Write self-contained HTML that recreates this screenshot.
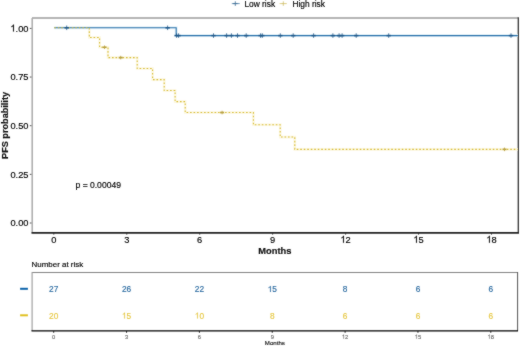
<!DOCTYPE html>
<html><head><meta charset="utf-8"><style>
html,body{margin:0;padding:0;background:#fff;}
svg{display:block;}
text{font-family:"Liberation Sans",sans-serif;stroke:currentColor;stroke-width:0.15px;}
</style></head><body>
<svg width="520" height="347" viewBox="0 0 520 347">
<defs><filter id="bl" x="0" y="0" width="520" height="347" filterUnits="userSpaceOnUse" color-interpolation-filters="sRGB"><feConvolveMatrix order="3" kernelMatrix="1 2 1 2 24 2 1 2 1" edgeMode="duplicate"/></filter></defs>
<g filter="url(#bl)">
<rect width="520" height="347" fill="#fff"/>
<path d="M231.8,3.6H239.7" stroke="#4a7ca4" stroke-width="0.8"/>
<path d="M233.0,3.60H237.6" stroke="#3d6f96" stroke-width="0.8" fill="none"/><path d="M235.3,1.30V5.90" stroke="#3d6f96" stroke-width="0.8" fill="none"/>
<path d="M279.6,3.6H288" stroke="#d8c868" stroke-width="0.8" stroke-dasharray="1.6,1.2"/>
<path d="M281.0,3.60H285.6" stroke="#d0c070" stroke-width="0.8" fill="none"/><path d="M283.3,1.30V5.90" stroke="#d0c070" stroke-width="0.8" fill="none"/>
<text x="244.4" y="7.0" font-size="8.4" fill="#000">Low risk</text>
<text x="292.4" y="7.0" font-size="8.4" fill="#000">High risk</text>
<path d="M32,18H518" stroke="#9c9c9c" stroke-width="1.6"/>
<path d="M32.2,18V232.5" stroke="#aaa" stroke-width="1.5"/>
<path d="M518.3,17.3V233" stroke="#333" stroke-width="1.3"/>
<path d="M31.5,232.85H519" stroke="#222" stroke-width="1.6"/>
<path d="M29.8,28.40H31.5" stroke="#555" stroke-width="1"/>
<g transform="translate(10.40,31.60) scale(1,1.05)">
<text x="0.00" y="0.00" font-size="9.3" fill="#000" color="#000"> .00</text>
<path d="M763,0L583,0L583,1147Q518,1085 412,1023Q307,961 223,930L223,1104Q374,1175 487,1276Q600,1377 647,1472L763,1472Z" fill="#000" stroke="#000" stroke-width="33.0" transform="translate(0.00,0.00) scale(0.004541,-0.004541)"/>
</g>
<path d="M29.8,77.05H31.5" stroke="#555" stroke-width="1"/>
<g transform="translate(10.40,80.25) scale(1,1.05)">
<text x="0.00" y="0.00" font-size="9.3" fill="#000" color="#000">0.75</text>
</g>
<path d="M29.8,125.70H31.5" stroke="#555" stroke-width="1"/>
<g transform="translate(10.40,128.90) scale(1,1.05)">
<text x="0.00" y="0.00" font-size="9.3" fill="#000" color="#000">0.50</text>
</g>
<path d="M29.8,174.35H31.5" stroke="#555" stroke-width="1"/>
<g transform="translate(10.40,177.55) scale(1,1.05)">
<text x="0.00" y="0.00" font-size="9.3" fill="#000" color="#000">0.25</text>
</g>
<path d="M29.8,223.00H31.5" stroke="#555" stroke-width="1"/>
<g transform="translate(10.40,226.20) scale(1,1.05)">
<text x="0.00" y="0.00" font-size="9.3" fill="#000" color="#000">0.00</text>
</g>
<path d="M53.80,233V234.6" stroke="#333" stroke-width="1"/>
<g transform="translate(51.21,242.80) scale(1,1.05)">
<text x="0.00" y="0.00" font-size="9.3" fill="#000" color="#000">0</text>
</g>
<path d="M126.75,233V234.6" stroke="#333" stroke-width="1"/>
<g transform="translate(124.16,242.80) scale(1,1.05)">
<text x="0.00" y="0.00" font-size="9.3" fill="#000" color="#000">3</text>
</g>
<path d="M199.70,233V234.6" stroke="#333" stroke-width="1"/>
<g transform="translate(197.11,242.80) scale(1,1.05)">
<text x="0.00" y="0.00" font-size="9.3" fill="#000" color="#000">6</text>
</g>
<path d="M272.65,233V234.6" stroke="#333" stroke-width="1"/>
<g transform="translate(270.06,242.80) scale(1,1.05)">
<text x="0.00" y="0.00" font-size="9.3" fill="#000" color="#000">9</text>
</g>
<path d="M345.60,233V234.6" stroke="#333" stroke-width="1"/>
<g transform="translate(340.43,242.80) scale(1,1.05)">
<text x="0.00" y="0.00" font-size="9.3" fill="#000" color="#000"> 2</text>
<path d="M763,0L583,0L583,1147Q518,1085 412,1023Q307,961 223,930L223,1104Q374,1175 487,1276Q600,1377 647,1472L763,1472Z" fill="#000" stroke="#000" stroke-width="33.0" transform="translate(0.00,0.00) scale(0.004541,-0.004541)"/>
</g>
<path d="M418.55,233V234.6" stroke="#333" stroke-width="1"/>
<g transform="translate(413.38,242.80) scale(1,1.05)">
<text x="0.00" y="0.00" font-size="9.3" fill="#000" color="#000"> 5</text>
<path d="M763,0L583,0L583,1147Q518,1085 412,1023Q307,961 223,930L223,1104Q374,1175 487,1276Q600,1377 647,1472L763,1472Z" fill="#000" stroke="#000" stroke-width="33.0" transform="translate(0.00,0.00) scale(0.004541,-0.004541)"/>
</g>
<path d="M491.50,233V234.6" stroke="#333" stroke-width="1"/>
<g transform="translate(486.33,242.80) scale(1,1.05)">
<text x="0.00" y="0.00" font-size="9.3" fill="#000" color="#000"> 8</text>
<path d="M763,0L583,0L583,1147Q518,1085 412,1023Q307,961 223,930L223,1104Q374,1175 487,1276Q600,1377 647,1472L763,1472Z" fill="#000" stroke="#000" stroke-width="33.0" transform="translate(0.00,0.00) scale(0.004541,-0.004541)"/>
</g>
<text x="274.9" y="253.5" font-size="9.3" font-weight="bold" fill="#111" text-anchor="middle">Months</text>
<text transform="translate(7.7,125.45) rotate(-90)" x="0" y="0" font-size="9.15" font-weight="bold" fill="#111" text-anchor="middle">PFS probability</text>
<text x="75.5" y="187.8" font-size="8.55" fill="#000">p = 0.00049</text>
<path d="M54.3,27.80 H89.3 V37.54 H99.6 V47.28 H108.0 V57.60 H137.2 V68.51 H152.6 V79.62 H164.2 V90.53 H175.1 V101.63 H185.2 V112.54 H253.4 V124.81 H280.2 V137.08 H294.8 V149.36 H517.8" stroke="#fdf8e2" stroke-width="2.6" fill="none"/>
<path d="M54.3,27.80 H176.2 V35.59 H517.8" stroke="#eaf5fb" stroke-width="3.0" fill="none"/>
<path d="M54.3,27.80 H176.2 V35.59 H517.8" stroke="#2a72aa" stroke-width="1.1" fill="none"/>
<path d="M54.3,27.80 H89.3 V37.54 H99.6 V47.28 H108.0 V57.60 H137.2 V68.51 H152.6 V79.62 H164.2 V90.53 H175.1 V101.63 H185.2 V112.54 H253.4 V124.81 H280.2 V137.08 H294.8 V149.36 H517.8" stroke="#d6bc38" stroke-width="1.05" fill="none" stroke-dasharray="1.6,1.9"/>
<path d="M64.5,27.80H68.9" stroke="#1d5688" stroke-width="1.5" fill="none"/><path d="M66.7,25.50V30.10" stroke="#1d5688" stroke-width="0.75" fill="none"/>
<path d="M165.4,27.80H169.8" stroke="#1d5688" stroke-width="1.5" fill="none"/><path d="M167.6,25.50V30.10" stroke="#1d5688" stroke-width="0.75" fill="none"/>
<path d="M174.4,35.59H178.8" stroke="#1d5688" stroke-width="1.5" fill="none"/><path d="M176.6,33.29V37.89" stroke="#1d5688" stroke-width="0.75" fill="none"/>
<path d="M176.4,35.59H180.8" stroke="#1d5688" stroke-width="1.5" fill="none"/><path d="M178.6,33.29V37.89" stroke="#1d5688" stroke-width="0.75" fill="none"/>
<path d="M211.3,35.59H215.7" stroke="#1d5688" stroke-width="1.5" fill="none"/><path d="M213.5,33.29V37.89" stroke="#1d5688" stroke-width="0.75" fill="none"/>
<path d="M224.4,35.59H228.8" stroke="#1d5688" stroke-width="1.5" fill="none"/><path d="M226.6,33.29V37.89" stroke="#1d5688" stroke-width="0.75" fill="none"/>
<path d="M229.2,35.59H233.6" stroke="#1d5688" stroke-width="1.5" fill="none"/><path d="M231.4,33.29V37.89" stroke="#1d5688" stroke-width="0.75" fill="none"/>
<path d="M235.3,35.59H239.7" stroke="#1d5688" stroke-width="1.5" fill="none"/><path d="M237.5,33.29V37.89" stroke="#1d5688" stroke-width="0.75" fill="none"/>
<path d="M244.0,35.59H248.4" stroke="#1d5688" stroke-width="1.5" fill="none"/><path d="M246.2,33.29V37.89" stroke="#1d5688" stroke-width="0.75" fill="none"/>
<path d="M258.4,35.59H262.8" stroke="#1d5688" stroke-width="1.5" fill="none"/><path d="M260.6,33.29V37.89" stroke="#1d5688" stroke-width="0.75" fill="none"/>
<path d="M260.1,35.59H264.5" stroke="#1d5688" stroke-width="1.5" fill="none"/><path d="M262.3,33.29V37.89" stroke="#1d5688" stroke-width="0.75" fill="none"/>
<path d="M278.1,35.59H282.5" stroke="#1d5688" stroke-width="1.5" fill="none"/><path d="M280.3,33.29V37.89" stroke="#1d5688" stroke-width="0.75" fill="none"/>
<path d="M291.0,35.59H295.4" stroke="#1d5688" stroke-width="1.5" fill="none"/><path d="M293.2,33.29V37.89" stroke="#1d5688" stroke-width="0.75" fill="none"/>
<path d="M311.4,35.59H315.8" stroke="#1d5688" stroke-width="1.5" fill="none"/><path d="M313.6,33.29V37.89" stroke="#1d5688" stroke-width="0.75" fill="none"/>
<path d="M330.7,35.59H335.1" stroke="#1d5688" stroke-width="1.5" fill="none"/><path d="M332.9,33.29V37.89" stroke="#1d5688" stroke-width="0.75" fill="none"/>
<path d="M336.9,35.59H341.3" stroke="#1d5688" stroke-width="1.5" fill="none"/><path d="M339.1,33.29V37.89" stroke="#1d5688" stroke-width="0.75" fill="none"/>
<path d="M339.9,35.59H344.3" stroke="#1d5688" stroke-width="1.5" fill="none"/><path d="M342.1,33.29V37.89" stroke="#1d5688" stroke-width="0.75" fill="none"/>
<path d="M354.0,35.59H358.4" stroke="#1d5688" stroke-width="1.5" fill="none"/><path d="M356.2,33.29V37.89" stroke="#1d5688" stroke-width="0.75" fill="none"/>
<path d="M386.5,35.59H390.9" stroke="#1d5688" stroke-width="1.5" fill="none"/><path d="M388.7,33.29V37.89" stroke="#1d5688" stroke-width="0.75" fill="none"/>
<path d="M508.8,35.59H513.2" stroke="#1d5688" stroke-width="1.5" fill="none"/><path d="M511.0,33.29V37.89" stroke="#1d5688" stroke-width="0.75" fill="none"/>
<path d="M102.5,47.28H106.5" stroke="#b8a040" stroke-width="1.6" fill="none"/><path d="M104.5,45.48V49.08" stroke="#b8a040" stroke-width="0.8" fill="none"/>
<path d="M118.7,57.60H122.7" stroke="#b8a040" stroke-width="1.6" fill="none"/><path d="M120.7,55.80V59.40" stroke="#b8a040" stroke-width="0.8" fill="none"/>
<path d="M220.1,112.54H224.1" stroke="#b8a040" stroke-width="1.6" fill="none"/><path d="M222.1,110.74V114.34" stroke="#b8a040" stroke-width="0.8" fill="none"/>
<path d="M502.5,149.36H506.5" stroke="#b8a040" stroke-width="1.6" fill="none"/><path d="M504.5,147.56V151.16" stroke="#b8a040" stroke-width="0.8" fill="none"/>
<text x="31.6" y="267.45" font-size="7.95" fill="#000">Number at risk</text>
<path d="M32,272.5H517.7" stroke="#858585" stroke-width="1.1"/>
<path d="M32.1,272V331" stroke="#999" stroke-width="1.1"/>
<path d="M517.6,272V331" stroke="#555" stroke-width="1"/>
<path d="M31.5,330.9H518" stroke="#000" stroke-width="1.3"/>
<path d="M20.1,288.8H27.9" stroke="#0a62aa" stroke-width="2"/>
<path d="M20.1,315.3H27.9" stroke="#e0c020" stroke-width="2"/>
<text x="49.08" y="291.90" font-size="8.3" fill="#2a6aa0" color="#2a6aa0">27</text>
<text x="49.08" y="318.50" font-size="8.3" fill="#e6c844" color="#e6c844">20</text>
<path d="M53.70,331V332.8" stroke="#111" stroke-width="0.9"/>
<text x="52.09" y="338.70" font-size="5.8" fill="#707070" color="#707070">0</text>
<text x="121.93" y="291.90" font-size="8.3" fill="#2a6aa0" color="#2a6aa0">26</text>
<text x="121.93" y="318.50" font-size="8.3" fill="#e6c844" color="#e6c844"> 5</text>
<path d="M763,0L583,0L583,1147Q518,1085 412,1023Q307,961 223,930L223,1104Q374,1175 487,1276Q600,1377 647,1472L763,1472Z" fill="#e6c844" stroke="#e6c844" stroke-width="37.0" transform="translate(121.93,318.50) scale(0.004053,-0.004053)"/>
<path d="M126.55,331V332.8" stroke="#111" stroke-width="0.9"/>
<text x="124.94" y="338.70" font-size="5.8" fill="#707070" color="#707070">3</text>
<text x="194.78" y="291.90" font-size="8.3" fill="#2a6aa0" color="#2a6aa0">22</text>
<text x="194.78" y="318.50" font-size="8.3" fill="#e6c844" color="#e6c844"> 0</text>
<path d="M763,0L583,0L583,1147Q518,1085 412,1023Q307,961 223,930L223,1104Q374,1175 487,1276Q600,1377 647,1472L763,1472Z" fill="#e6c844" stroke="#e6c844" stroke-width="37.0" transform="translate(194.78,318.50) scale(0.004053,-0.004053)"/>
<path d="M199.40,331V332.8" stroke="#111" stroke-width="0.9"/>
<text x="197.79" y="338.70" font-size="5.8" fill="#707070" color="#707070">6</text>
<text x="267.63" y="291.90" font-size="8.3" fill="#2a6aa0" color="#2a6aa0"> 5</text>
<path d="M763,0L583,0L583,1147Q518,1085 412,1023Q307,961 223,930L223,1104Q374,1175 487,1276Q600,1377 647,1472L763,1472Z" fill="#2a6aa0" stroke="#2a6aa0" stroke-width="37.0" transform="translate(267.63,291.90) scale(0.004053,-0.004053)"/>
<text x="269.94" y="318.50" font-size="8.3" fill="#e6c844" color="#e6c844">8</text>
<path d="M272.25,331V332.8" stroke="#111" stroke-width="0.9"/>
<text x="270.64" y="338.70" font-size="5.8" fill="#707070" color="#707070">9</text>
<text x="342.79" y="291.90" font-size="8.3" fill="#2a6aa0" color="#2a6aa0">8</text>
<text x="342.79" y="318.50" font-size="8.3" fill="#e6c844" color="#e6c844">6</text>
<path d="M345.10,331V332.8" stroke="#111" stroke-width="0.9"/>
<text x="341.87" y="338.70" font-size="5.8" fill="#707070" color="#707070"> 2</text>
<path d="M763,0L583,0L583,1147Q518,1085 412,1023Q307,961 223,930L223,1104Q374,1175 487,1276Q600,1377 647,1472L763,1472Z" fill="#707070" stroke="#707070" stroke-width="53.0" transform="translate(341.87,338.70) scale(0.002832,-0.002832)"/>
<text x="415.64" y="291.90" font-size="8.3" fill="#2a6aa0" color="#2a6aa0">6</text>
<text x="415.64" y="318.50" font-size="8.3" fill="#e6c844" color="#e6c844">6</text>
<path d="M417.95,331V332.8" stroke="#111" stroke-width="0.9"/>
<text x="414.72" y="338.70" font-size="5.8" fill="#707070" color="#707070"> 5</text>
<path d="M763,0L583,0L583,1147Q518,1085 412,1023Q307,961 223,930L223,1104Q374,1175 487,1276Q600,1377 647,1472L763,1472Z" fill="#707070" stroke="#707070" stroke-width="53.0" transform="translate(414.72,338.70) scale(0.002832,-0.002832)"/>
<text x="488.49" y="291.90" font-size="8.3" fill="#2a6aa0" color="#2a6aa0">6</text>
<text x="488.49" y="318.50" font-size="8.3" fill="#e6c844" color="#e6c844">6</text>
<path d="M490.80,331V332.8" stroke="#111" stroke-width="0.9"/>
<text x="487.57" y="338.70" font-size="5.8" fill="#707070" color="#707070"> 8</text>
<path d="M763,0L583,0L583,1147Q518,1085 412,1023Q307,961 223,930L223,1104Q374,1175 487,1276Q600,1377 647,1472L763,1472Z" fill="#707070" stroke="#707070" stroke-width="53.0" transform="translate(487.57,338.70) scale(0.002832,-0.002832)"/>
<text x="274.85" y="345.4" font-size="6.1" fill="#222" text-anchor="middle">Months</text>
</g></svg>
</body></html>
